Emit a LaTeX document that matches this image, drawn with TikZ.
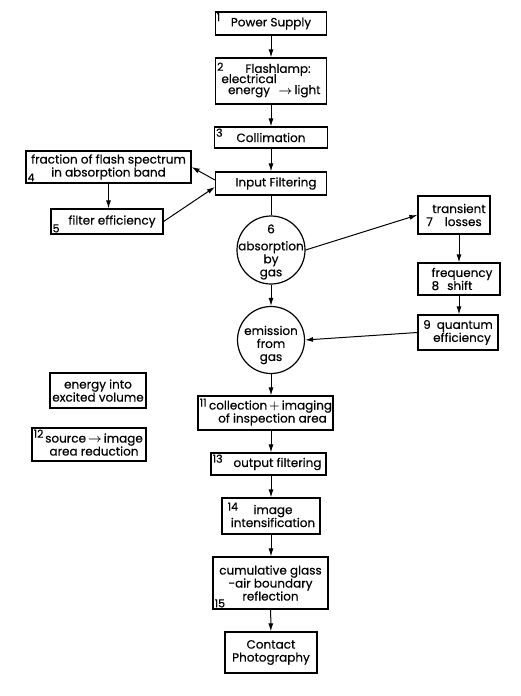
\documentclass[tikz,border=0pt]{standalone}
\usepackage{amsmath}
\usepackage{fontspec}
\setmainfont{Poppins}[FakeBold = 0.4]
\usetikzlibrary{arrows.meta}

\begin{document}
\begin{tikzpicture}[x = 1pt, y = -1pt, font = \fontsize{12}{13}\selectfont]
	\tikzstyle{boxStyle} = [draw, line width = 1.2pt, inner sep = 0.5pt, align = center]
	\tikzstyle{circStyle} = [draw, circle, line width = 1.2pt, inner sep = 0pt, minimum size = 68pt]
	\tikzstyle{textStyle} = [inner sep = 0pt, align = center]
	\tikzstyle{numStyle} = [inner sep = 2pt, font = \fontsize{11}{11}\selectfont]
	\tikzstyle{arrowStyle} = [line width = 1pt, -{Latex[length = 8pt, width = 5pt]}]
	\tikzstyle{lineStyle} = [line width = 1pt]
	\useasboundingbox (0, 0) rectangle (521, 696);
	\node[boxStyle, minimum width = 111pt, minimum height = 23pt, label = {[numStyle, anchor = north west, inner sep = 1.5pt]north west:1}] (b1) at (271, 23.5) {Power Supply};
	\node[boxStyle, minimum width = 111pt, minimum height = 46pt, label = {[numStyle, anchor = north west, yshift = -3pt]north west:2}] (b2) at (271, 81) {\hspace*{14pt}Flashlamp:\\[-3pt]\begin{tabular}[b]{@{}c@{}}electrical\\[-2pt]energy\end{tabular}\,$\boldsymbol{\rightarrow}$\,light};
	\node[boxStyle, minimum width = 113pt, minimum height = 21pt, label = {[numStyle, anchor = north west]north west:3}] (b3) at (271, 137.5) {Collimation};
	\node[boxStyle, minimum width = 111pt, minimum height = 23pt] (bIn) at (271, 183.5) {\hspace*{10pt}Input Filtering};
	\node[boxStyle, minimum width = 165pt, minimum height = 32pt, label = {[numStyle, anchor = south west]south west:4}] (b4) at (108.5, 167) {fraction of flash spectrum\\in absorption band};
	\node[boxStyle, minimum width = 112pt, minimum height = 25pt, label = {[numStyle, anchor = south west]south west:5}] (b5) at (107, 221.5) {\hspace*{10pt}filter efficiency};
	\node[circStyle] (c6) at (271, 250) {};
	\node[textStyle] (t6) at ([yshift = -2pt]c6) {6\\[4pt]absorption\\by\\gas};
	\node[boxStyle, minimum width = 72pt, minimum height = 38pt] (b7) at (454, 215) {\hspace*{10pt}transient\\7\hspace*{12pt}losses};
	\node[boxStyle, minimum width = 82pt, minimum height = 32pt] (b8) at (459, 279) {\hspace*{6pt}frequency\\8\hspace*{8pt}shift\hspace*{14pt}};
	\node[boxStyle, minimum width = 80pt, minimum height = 35pt] (b9) at (458, 332.5) {9\hspace*{6pt}quantum\\\hspace*{8pt}efficiency};
	\node[circStyle, minimum size = 67pt] (c10) at (271, 340) {};
	\node[textStyle] (t10) at ([yshift = -5pt]c10) {emission\\from\\gas};
	\node[boxStyle, minimum width = 96pt, minimum height = 35pt] (bE) at (98, 390.5) {energy into\\excited volume};
	\node[boxStyle, minimum width = 135pt, minimum height = 34pt, label = {[numStyle, anchor = north west, yshift = -1pt]north west:11}] (b11) at (265.5, 413) {\hspace*{10pt}collection\,$\boldsymbol{+}$\,imaging\\\hspace*{14pt}of inspection area};
	\node[boxStyle, minimum width = 114pt, minimum height = 33pt, label = {[numStyle, anchor = north west]north west:12}] (b12) at (89, 444.5) {\hspace*{10pt}source\,$\boldsymbol{\rightarrow}$\,image\\\hspace*{10pt}area reduction};
	\node[boxStyle, minimum width = 115pt, minimum height = 22pt, label = {[numStyle, anchor = north west]north west:13}] (b13) at (268.5, 464) {\hspace*{18pt}output filtering};
	\node[boxStyle, minimum width = 98pt, minimum height = 36pt, label = {[numStyle, anchor = north west, xshift = 4pt, yshift = -3pt]north west:14}] (b14) at (271, 516) {\hspace*{4pt}image\\\hspace*{4pt}intensification};
	\node[boxStyle, minimum width = 115pt, minimum height = 52pt, label = {[numStyle, anchor = south west]south west:15}] (b15) at (270.5, 583) {cumulative glass\\-air boundary\\reflection};
	\node[boxStyle, minimum width = 92pt, minimum height = 41pt] (b16) at (271, 652.5) {Contact\\Photography};
	\draw[arrowStyle] (b1) -- (b2);
	\draw[arrowStyle] (b2) -- (b3);
	\draw[arrowStyle] (b3) -- (bIn);
	\draw[arrowStyle] ([yshift = 3.5pt]bIn.west) -- (b4.east);
	\draw[arrowStyle] (b4.south) -- (b4.south |- b5.north);
	\draw[arrowStyle] (b5.east) -- ([yshift = -3.5pt]bIn.west);
	\draw[lineStyle] (bIn) -- (c6);
	\draw[arrowStyle] (c6.east) -- (b7.west);
	\draw[arrowStyle] (b8 |- b7.south) -- (b8);
	\draw[arrowStyle] (b8) -- (b8 |- b9.north);
	\draw[arrowStyle] (b9.west) -- (c10.east);
	\draw[arrowStyle] (c6) -- (c10);
	\draw[arrowStyle] (c10) -- (c10 |- b11.north);
	\draw[arrowStyle] (c10 |- b11.south) -- (c10 |- b13.north);
	\draw[arrowStyle] (b14 |- b13.south) -- (b14);
	\draw[arrowStyle] (b14) -- (b14 |- b15.north);
	\draw[arrowStyle] (b15) -- (b16);
\end{tikzpicture}
\end{document}
